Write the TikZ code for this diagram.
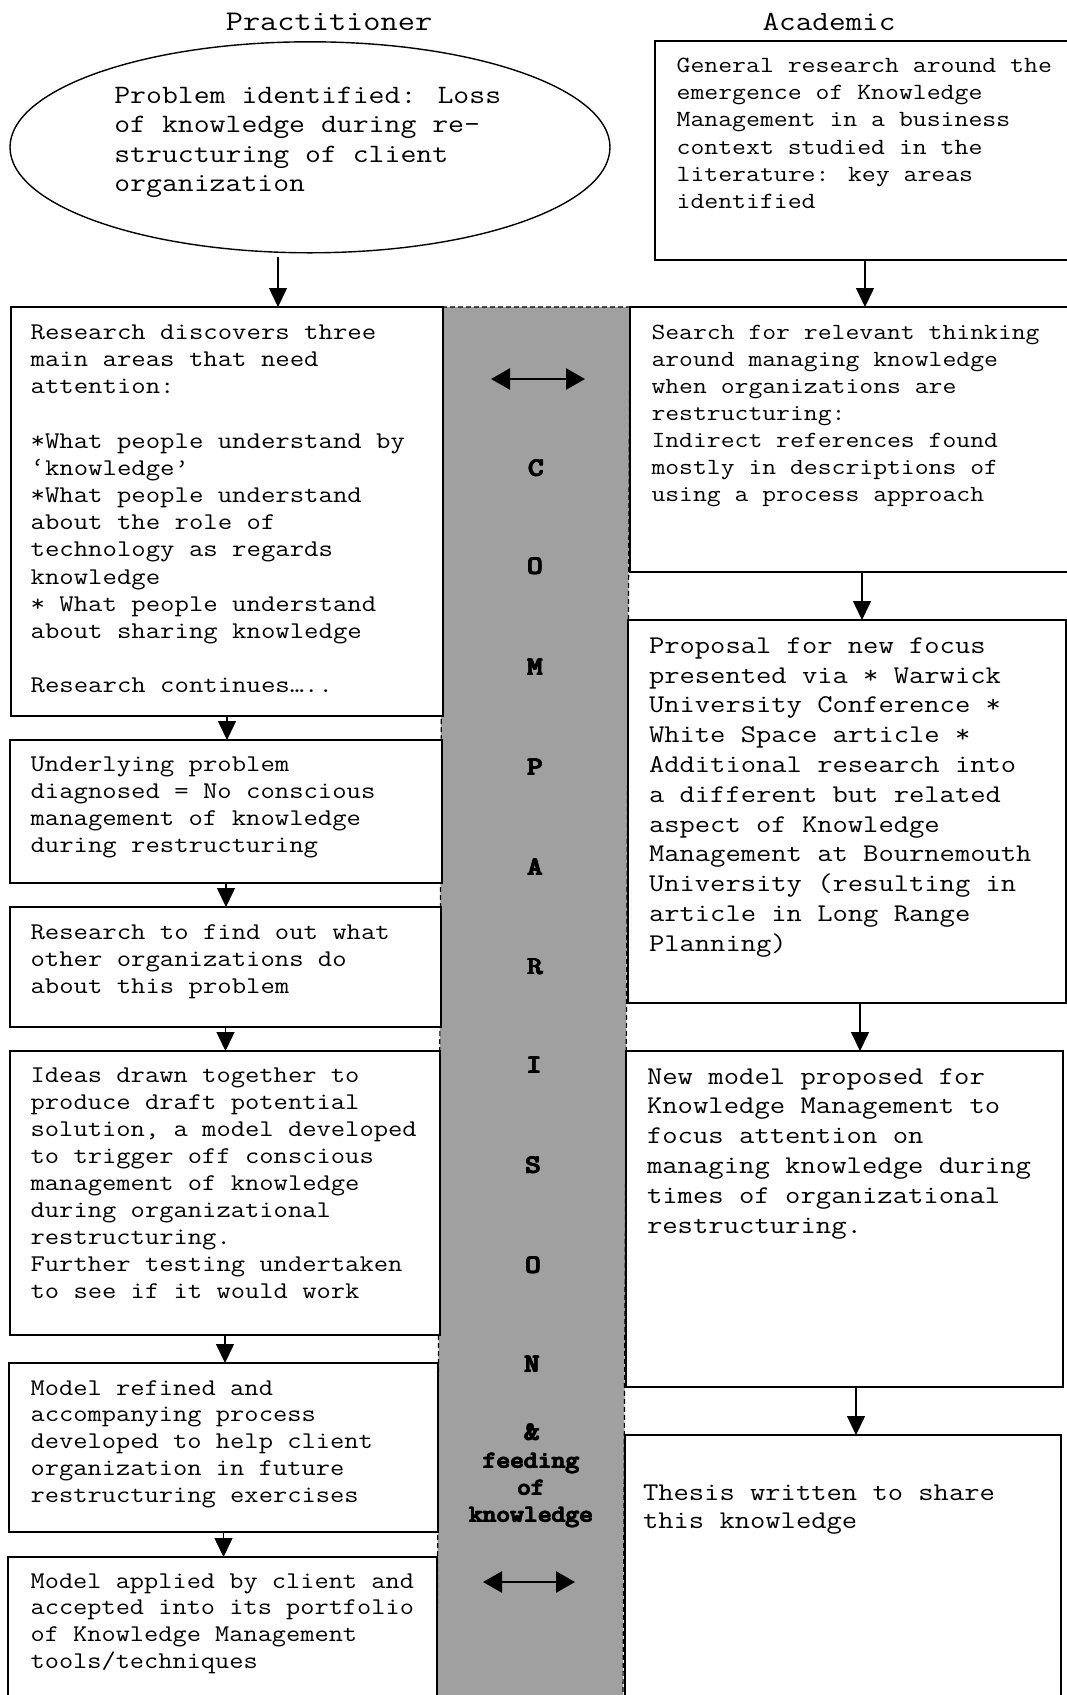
\documentclass[tikz,border=0pt]{standalone}
\usepackage{graphicx}
\usetikzlibrary{arrows.meta,shapes.geometric,fit}

\definecolor{bandgray}{RGB}{160,160,160}

% Typewriter text, stretched so that one character cell is #4 wide.
% #1 extra font switches, #2 size, #3 baseline skip, #4 cell width, #5 lines
\newcommand\monotext[5]{%
  \fontsize{#2}{#3}\selectfont\ttfamily#1%
  \setbox0=\hbox{M}\dimen0=\wd0
  \pgfmathsetmacro\mtk{#4/\the\dimen0}%
  \scalebox{\mtk}[1]{\begin{tabular}[t]{@{}l@{}}#5\end{tabular}}}

% Heavy typewriter word: the glyphs are laid several times, slightly offset.
\newcommand\smear[1]{%
  \rlap{#1}\rlap{\kern1.1pt#1}%
  \rlap{\raise0.6pt\hbox{#1}}\rlap{\kern1.1pt\raise0.6pt\hbox{#1}}%
  \rlap{\kern0.55pt\raise0.3pt\hbox{#1}}\hbox{#1}\kern1.1pt}
% #1 size, #2 cell width, #3 word
\newcommand\heavymono[3]{%
  \fontsize{#1}{#1}\selectfont\ttfamily
  \setbox0=\hbox{M}\dimen0=\wd0
  \pgfmathsetmacro\mtk{#2/\the\dimen0}%
  \scalebox{\mtk}[1]{\smear{#3}}}

\tikzset{
  box/.style={draw=black, line width=1.4pt, fill=white, inner sep=0pt, outer sep=0pt},
  oval/.style={draw=black, line width=1.4pt, ellipse, inner sep=0pt, outer sep=0pt},
  arr/.style={line width=1.5pt, -{Triangle[length=19pt,width=18pt]}},
  dbl/.style={line width=2.6pt, {Triangle[length=19pt,width=21pt]}-{Triangle[length=19pt,width=21pt]}},
  txt/.style={inner sep=0pt, outer sep=0pt, anchor=base west},
  ctxt/.style={inner sep=0pt, outer sep=0pt, anchor=base},
  letter/.style={inner sep=0pt, outer sep=0pt, anchor=center},
}

\begin{document}
\begin{tikzpicture}[x=1pt, y=-1pt]
\useasboundingbox (0,0) rectangle (1067,1695);
\clip (0,0) rectangle (1067,1695);
\fill[white] (0,0) rectangle (1067,1695);

% comparison band between the two columns
\fill[bandgray] (443,307) -- (630,307) -- (623,1700) -- (437,1700) -- cycle;
\draw[line width=1.2pt, dash pattern=on 5pt off 3pt]
  (437,1700) -- (443,307) -- (630,307) -- (623,1700);

% column headings
\node[ctxt] (hp) at (329,30.7) {\monotext{}{28.5}{30}{17.2}{Practitioner}};
\node[ctxt] (ha) at (829,30.7) {\monotext{}{27.7}{30}{16.6}{Academic}};

% practitioner column
\node[oval, minimum width=600pt, minimum height=211pt] (E) at (310,147.3) {};
\node[box, fit={(11,307) (443,716)}] (L1) {};
\node[box, fit={(10,740) (442,883)}] (L2) {};
\node[box, fit={(10,907) (441,1027)}] (L3) {};
\node[box, fit={(10,1051) (440,1335)}] (L4) {};
\node[box, fit={(9,1363) (438,1532)}] (L5) {};
\node[box, fit={(8,1557) (437,1710)}] (L6) {};

% academic column
\node[box, fit={(655,41) (1075,260)}] (R0) {};
\node[box, fit={(630,307) (1075,572)}] (R1) {};
\node[box, fit={(628,620) (1066,1003)}] (R2) {};
\node[box, fit={(626,1051) (1063,1387)}] (R3) {};
\node[box, fit={(625,1435) (1061,1710)}] (R4) {};

% texts of the practitioner column
\node[txt] (tE) at (114.3,103.3) {\monotext{}{26.5}{29.4}{15.9}{%
Problem identified: Loss\\
of knowledge during re-\\
structuring of client\\
organization}};
\node[txt] (tL1) at (30.6,339.3) {\monotext{}{24}{27.2}{14.4}{%
Research discovers three\\
main areas that need\\
attention:\\
\\
{}*What people understand by\\
‘knowledge’\\
{}*What people understand\\
about the role of\\
technology as regards\\
knowledge\\
{}* What people understand\\
about sharing knowledge\\
\\
Research continues…..}};
\node[txt] (tL2) at (30.6,771.7) {\monotext{}{24}{26.8}{14.37}{%
Underlying problem\\
diagnosed = No conscious\\
management of knowledge\\
during restructuring}};
\node[txt] (tL3) at (30.6,939) {\monotext{}{24}{27}{14.37}{%
Research to find out what\\
other organizations do\\
about this problem}};
\node[txt] (tL4) at (30.6,1082.7) {\monotext{}{24}{27}{14.3}{%
Ideas drawn together to\\
produce draft potential\\
solution, a model developed\\
to trigger off conscious\\
management of knowledge\\
during organizational\\
restructuring.\\
Further testing undertaken\\
to see if it would work}};
\node[txt] (tL5) at (30.6,1395) {\monotext{}{24}{26.8}{14.26}{%
Model refined and\\
accompanying process\\
developed to help client\\
organization in future\\
restructuring exercises}};
\node[txt] (tL6) at (30.6,1588) {\monotext{}{24}{26.7}{14.2}{%
Model applied by client and\\
accepted into its portfolio\\
of Knowledge Management\\
tools/techniques}};

% texts of the academic column
\node[txt] (tR0) at (676.6,72.7) {\monotext{}{23.2}{27.1}{13.9}{%
General research around the\\
emergence of Knowledge\\
Management in a business\\
context studied in the\\
literature: key areas\\
identified}};
\node[txt] (tR1) at (651.5,339) {\monotext{}{23.1}{27.1}{13.86}{%
Search for relevant thinking\\
around managing knowledge\\
when organizations are\\
restructuring:\\
Indirect references found\\
mostly in descriptions of\\
using a process approach}};
\node[txt] (tR2) at (649,653.3) {\monotext{}{25.5}{29.8}{15.3}{%
Proposal for new focus\\
presented via * Warwick\\
University Conference *\\
White Space article *\\
Additional research into\\
a different but related\\
aspect of Knowledge\\
Management at Bournemouth\\
University (resulting in\\
article in Long Range\\
Planning)}};
\node[txt] (tR3) at (647,1084) {\monotext{}{25.5}{29.9}{15.36}{%
New model proposed for\\
Knowledge Management to\\
focus attention on\\
managing knowledge during\\
times of organizational\\
restructuring.}};
\node[txt] (tR4) at (643,1500) {\monotext{}{25.5}{28}{15.3}{%
Thesis written to share\\
this knowledge}};

% flow arrows
\draw[arr, shorten <=4pt] ([xshift=-32pt]E.south) -- ([xshift=51pt]L1.north);
\draw[arr] (L1.south) -- (L1.south |- L2.north);
\draw[arr] (L2.south) -- (L2.south |- L3.north);
\draw[arr] (L3.south) -- (L3.south |- L4.north);
\draw[arr] (L4.south) -- (L4.south |- L5.north);
\draw[arr] (L5.south) -- (L5.south |- L6.north);

\draw[arr] (R0.south) -- (R0.south |- R1.north);
\draw[arr] ([xshift=9.5pt]R1.south) -- ([xshift=9.5pt]R1.south |- R2.north);
\draw[arr] ([xshift=13pt]R2.south) -- ([xshift=13pt]R2.south |- R3.north);
\draw[arr] ([xshift=11.5pt]R3.south) -- ([xshift=11.5pt]R3.south |- R4.north);

% comparison band: exchange arrows and vertical lettering
\coordinate (xa1) at (491,379);
\coordinate (xb1) at (585,379);
\draw[dbl] (xa1) -- (xb1);
\coordinate (xa2) at (483,1582);
\coordinate (xb2) at (575,1582);
\draw[dbl] (xa2) -- (xb2);

\node[letter] (c1) at (536,468) {\heavymono{25.5}{15.3}{C}};
\node[letter] (c2) at (535,566) {\heavymono{25.5}{15.3}{O}};
\node[letter] (c3) at (535,667) {\heavymono{25.5}{15.3}{M}};
\node[letter] (c4) at (535,767) {\heavymono{25.5}{15.3}{P}};
\node[letter] (c5) at (535,867) {\heavymono{25.5}{15.3}{A}};
\node[letter] (c6) at (535,967) {\heavymono{25.5}{15.3}{R}};
\node[letter] (c7) at (534,1065) {\heavymono{25.5}{15.3}{I}};
\node[letter] (c8) at (533,1165) {\heavymono{25.5}{15.3}{S}};
\node[letter] (c9) at (533,1265) {\heavymono{25.5}{15.3}{O}};
\node[letter] (c10) at (532,1364) {\heavymono{25.5}{15.3}{N}};
\node[letter] (c11) at (532,1432) {\heavymono{25.5}{15.3}{\&}};
\node[ctxt] (w1) at (531,1468) {\heavymono{23.5}{13.8}{feeding}};
\node[ctxt] (w2) at (531,1495) {\heavymono{23.5}{13.8}{of}};
\node[ctxt] (w3) at (531,1522) {\heavymono{23.5}{13.8}{knowledge}};
\end{tikzpicture}
\end{document}
